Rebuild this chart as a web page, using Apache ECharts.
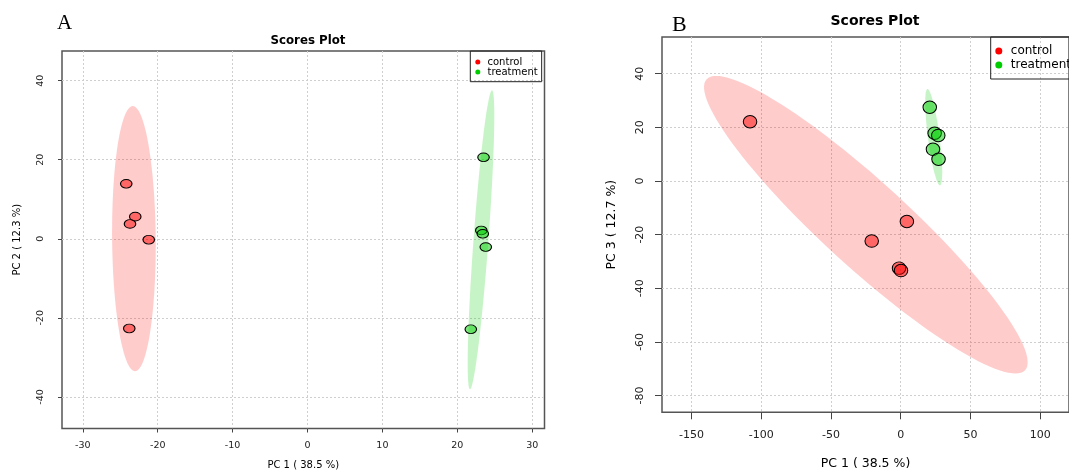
<!DOCTYPE html>
<html>
<head>
<meta charset="utf-8">
<script src="https://cdn.jsdelivr.net/npm/echarts@6/dist/echarts.min.js"></script>
<style>
  html, body { margin: 0; padding: 0; background: #fff; }
  #main { width: 1069px; height: 475px; }
</style>
</head>
<body>
<div id="main"></div>
<script>
// panel A: PC1 vs PC2
var pc1A_control = [-24.2, -23.0, -23.7, -21.2, -23.8];
var pc2A_control = [13.9, 5.6, 3.75, -0.25, -22.7];
var pc1A_treatment = [23.5, 23.2, 23.4, 23.8, 21.8];
var pc2A_treatment = [20.6, 2.1, 1.25, -2.1, -22.9];

// panel B: PC1 vs PC3
var pc1B_control = [-108.0, 4.4, -20.8, -1.2, 0.2];
var pc3B_control = [22.1, -15.1, -22.4, -32.5, -33.4];
var pc1B_treatment = [20.8, 24.3, 26.9, 23.1, 27.1];
var pc3B_treatment = [27.5, 17.8, 17.0, 11.8, 8.1];

// confidence ellipses: [cx, cy, ux, uy, vx, vy]
var ellipseA_control = [-23.18, 0.04, -0.15, 33.54, 2.91, 0];
var ellipseA_treatment = [23.16, -0.25, 1.47, 37.83, 1.0, 0];
var ellipseB_control = [-25.0, -16.3, -107.2, 55.5, 44.3, 0];
var ellipseB_treatment = [23.65, 16.34, -4.44, 17.95, 4.2, 0];

var ticksA_x = [-30, -20, -10, 0, 10, 20, 30];
var ticksA_y = [-40, -20, 0, 20, 40];
var ticksB_x = [-150, -100, -50, 0, 50, 100];
var ticksB_y = [-80, -60, -40, -20, 0, 20, 40];

var FONT = 'DejaVu Sans';
var RED_FILL = 'rgba(255,0,0,0.5)';
var GREEN_FILL = 'rgba(0,205,0,0.5)';

function zip(xs, ys) {
  return xs.map(function (x, i) { return [x, ys[i]]; });
}

function ellipseItem(params, api) {
  var cx = api.value(0), cy = api.value(1);
  var ux = api.value(2), uy = api.value(3);
  var vx = api.value(4), vy = api.value(5);
  var pts = [];
  for (var i = 0; i < 120; i++) {
    var t = i / 120 * Math.PI * 2;
    pts.push(api.coord([cx + ux * Math.cos(t) + vx * Math.sin(t),
                        cy + uy * Math.cos(t) + vy * Math.sin(t)]));
  }
  return { type: 'polygon', shape: { points: pts }, style: { fill: api.visual('color') } };
}

function valueAxis(min, max, ticks, o) {
  return {
    type: 'value', gridIndex: o.grid, min: min, max: max,
    name: o.name, nameLocation: 'middle', nameGap: o.nameGap,
    nameTextStyle: { fontFamily: FONT, fontSize: o.nameSize, color: '#000' },
    axisLine: { show: false, onZero: false },
    axisTick: { show: true, customValues: ticks, length: o.tick, lineStyle: { color: '#444' } },
    axisLabel: {
      customValues: ticks, margin: o.margin, rotate: o.rotate || 0,
      fontFamily: FONT, fontSize: o.labelSize, color: '#222'
    },
    splitLine: { show: true, lineStyle: { color: '#cfcfcf', type: [2, 2], width: 1 } }
  };
}

function ellipseSeries(name, data, xi, color) {
  return {
    type: 'custom', name: name, xAxisIndex: xi, yAxisIndex: xi, z: 1,
    renderItem: ellipseItem, itemStyle: { color: color },
    encode: { x: 0, y: 1 }, data: [data], silent: true
  };
}

function scatterSeries(name, xs, ys, xi, fill, size) {
  return {
    type: 'scatter', name: name, xAxisIndex: xi, yAxisIndex: xi, z: 2,
    symbol: 'circle', symbolSize: size,
    itemStyle: { color: fill, borderColor: '#000', borderWidth: 1, opacity: 1 },
    data: zip(xs, ys)
  };
}

var legendData = [
  { name: 'control', itemStyle: { color: '#ff0000', borderWidth: 0 } },
  { name: 'treatment', itemStyle: { color: '#00cd00', borderWidth: 0 } }
];

var chart = echarts.init(document.getElementById('main'));
chart.setOption({
  animation: false,
  backgroundColor: '#fff',
  title: [
    { text: 'Scores Plot', left: 303, top: 29.5, textAlign: 'center',
      textStyle: { fontFamily: FONT, fontSize: 11.8, fontWeight: 'bold', color: '#000' } },
    { text: 'Scores Plot', left: 870, top: 9.7, textAlign: 'center',
      textStyle: { fontFamily: FONT, fontSize: 14, fontWeight: 'bold', color: '#000' } }
  ],
  graphic: [
    { type: 'text', left: 57, top: 13, style: { text: 'A', font: '21px "Liberation Serif"', fill: '#000' } },
    { type: 'text', left: 672, top: 14, style: { text: 'B', font: '22px "Liberation Serif"', fill: '#000' } }
  ],
  legend: [
    { orient: 'vertical', left: 470.3, top: 51, padding: [6, 4, 4.7, 5],
      itemWidth: 9.4, itemHeight: 5, itemGap: 0, icon: 'circle', selectedMode: false,
      borderColor: '#222', borderWidth: 1,
      textStyle: { fontFamily: FONT, fontSize: 10, lineHeight: 10, color: '#000' },
      data: legendData },
    { orient: 'vertical', left: 990.7, top: 37, padding: [7, 16, 7, 4.6],
      itemWidth: 14, itemHeight: 7, itemGap: 0, icon: 'circle', selectedMode: false,
      borderColor: '#222', borderWidth: 1,
      textStyle: { fontFamily: FONT, fontSize: 12, lineHeight: 14, color: '#000' },
      data: legendData }
  ],
  grid: [
    { left: 62, top: 51, width: 482.5, height: 382, show: true,
      borderColor: '#555', borderWidth: 1.5, backgroundColor: 'transparent' },
    { left: 662, top: 37, width: 416, height: 377, show: true,
      borderColor: '#555', borderWidth: 1.5, backgroundColor: 'transparent' }
  ],
  xAxis: [
    valueAxis(-32.78, 31.64, ticksA_x, { grid: 0, name: 'PC 1 ( 38.5 %)', nameGap: 31.5,
      nameSize: 10, tick: 4, margin: 12.3, labelSize: 9.5 }),
    valueAxis(-171.1, 120.6, ticksB_x, { grid: 1, name: 'PC 1 ( 38.5 %)', nameGap: 44.7,
      nameSize: 12.5, tick: 7, margin: 17.2, labelSize: 11 })
  ],
  yAxis: [
    valueAxis(-48.0, 47.5, ticksA_y, { grid: 0, name: 'PC 2 ( 12.3 %)', nameGap: 40,
      nameSize: 10, tick: 4, margin: 16.2, labelSize: 9.5, rotate: 90 }),
    valueAxis(-86.26, 53.7, ticksB_y, { grid: 1, name: 'PC 3 ( 12.7 %)', nameGap: 44,
      nameSize: 12.5, tick: 7, margin: 16.8, labelSize: 11, rotate: 90 })
  ],
  series: [
    ellipseSeries('control ellipse A', ellipseA_control, 0, 'rgba(255,0,0,0.2)'),
    ellipseSeries('treatment ellipse A', ellipseA_treatment, 0, 'rgba(0,205,0,0.22)'),
    ellipseSeries('control ellipse B', ellipseB_control, 1, 'rgba(255,0,0,0.2)'),
    ellipseSeries('treatment ellipse B', ellipseB_treatment, 1, 'rgba(0,205,0,0.22)'),
    scatterSeries('control', pc1A_control, pc2A_control, 0, RED_FILL, [11.5, 8.7]),
    scatterSeries('treatment', pc1A_treatment, pc2A_treatment, 0, GREEN_FILL, [11.5, 8.7]),
    scatterSeries('control', pc1B_control, pc3B_control, 1, RED_FILL, [13.5, 12.5]),
    scatterSeries('treatment', pc1B_treatment, pc3B_treatment, 1, GREEN_FILL, [13.5, 12.5])
  ]
});
</script>
</body>
</html>
